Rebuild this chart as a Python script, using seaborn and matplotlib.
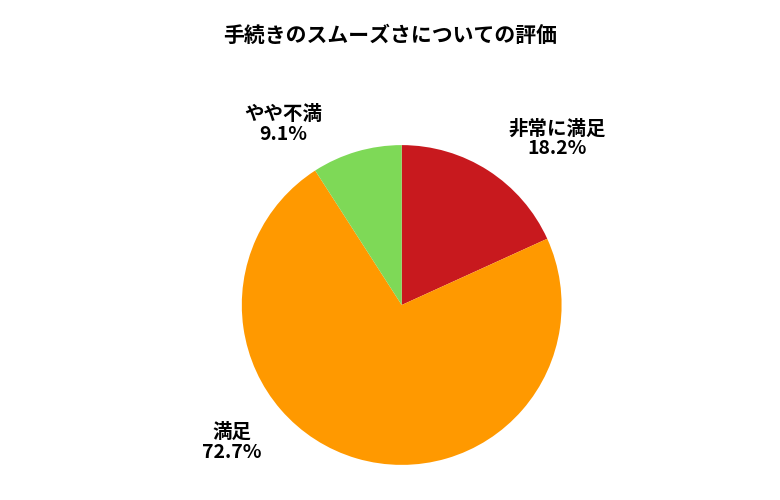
import matplotlib
matplotlib.use("Agg")
import matplotlib.pyplot as plt
import seaborn as sns

sns.set_theme(style="white")
plt.rcParams['font.family'] = ['Noto Sans CJK JP', 'DejaVu Sans']

categories = ["非常に満足", "満足", "やや不満"]
values = [18.2, 72.7, 9.1]
colors = ["#C8191E", "#FF9900", "#7ED957"]
label_pos = [(0.97, 1.04), (-1.06, -0.86), (-0.74, 1.13)]

fig = plt.figure(figsize=(7.8, 5), dpi=100)
ax = fig.add_axes([0.31, 0.07, 0.41, 0.64])
ax.pie(values, colors=colors, startangle=90, counterclock=False,
       wedgeprops=dict(linewidth=0))
for c, v, (x, y) in zip(categories, values, label_pos):
    ax.text(x, y, f"{c}\n{v:.1f}%", ha="center", va="center", color="black",
            fontsize=14, fontweight="bold", linespacing=1.05)
ax.set_xlim(-1, 1); ax.set_ylim(-1, 1)
ax.set_aspect("equal")
ax.axis("off")
fig.text(0.5, 0.93, "手続きのスムーズさについての評価", ha="center", va="center",
         fontsize=15, fontweight="bold", color="black")
fig.savefig("out.png", dpi=100)
